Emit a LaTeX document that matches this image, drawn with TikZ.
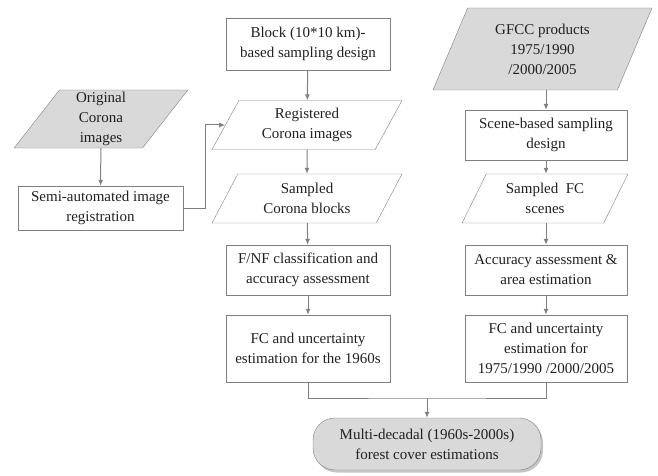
\documentclass[tikz,border=0pt]{standalone}
\usepackage{fontspec}
\setmainfont{Liberation Serif}
\usepackage{tikz}
\usetikzlibrary{shapes.geometric}
\usetikzlibrary{arrows.meta}
\usetikzlibrary{shadows}
\definecolor{linegray}{RGB}{128,128,128}
\definecolor{fillgray}{RGB}{217,217,217}
\definecolor{textgray}{RGB}{35,31,32}

\begin{document}
\begin{tikzpicture}[x=1pt,y=-1pt,
		every node/.style={font=\fontsize{15}{20}\selectfont, text=textgray, align=center},
		procbox/.style={
			draw=linegray,
			rectangle,
			minimum width=164pt,
			minimum height=50pt,
			inner sep=1pt
		},
		databox/.style={
			draw=linegray,
			trapezium,
			trapezium left angle=63,
			trapezium right angle=117,
			trapezium stretches=true,
			minimum width=190pt,
			minimum height=49pt,
			inner sep=1pt
		},
		inputbox/.style={databox, fill=fillgray},
		resultbox/.style={
			draw=linegray,
			fill=fillgray,
			rounded corners=22pt,
			minimum width=228pt,
			minimum height=52pt,
			drop shadow={shadow xshift=2pt, shadow yshift=-2.5pt, fill=black!45}
		},
		flow/.style={draw=linegray, line width=1pt, -{Latex[length=6pt, width=5pt]}},
		joinline/.style={draw=linegray, line width=1pt}]
		\useasboundingbox (0,0) rectangle (658,476);

		% left column
		\node[inputbox, minimum width=174pt, minimum height=58pt] (origimg) at (101,119) {Original\\Corona\\images};
		\node[procbox, minimum width=165pt, minimum height=44pt] (semireg) at (100.5,208) {Semi-automated image\\registration};

		% middle column
		\node[procbox, minimum height=52pt] (blockdesign) at (308,44) {Block (10*10 km)-\\based sampling design};
		\node[databox] (regimg) at (307,125) {Registered\\Corona images};
		\node[databox] (sampblock) at (307,198.5) {Sampled\\Corona blocks};
		\node[procbox] (fnfclass) at (308,270) {F/NF classification and\\accuracy assessment};
		\node[procbox, minimum height=67pt] (fcsixties) at (308,348.5) {FC and uncertainty\\estimation for the 1960s};

		% right column
		\node[inputbox, minimum width=219pt, minimum height=82pt, trapezium left angle=67, trapezium right angle=113] (gfcc) at (542.5,49) {GFCC products\\1975/1990\\/2000/2005};
		\node[procbox, minimum width=162pt] (scenedesign) at (546,135) {Scene-based sampling\\design};
		\node[databox, minimum width=166pt] (sampscene) at (545,198.5) {Sampled\ \ FC\\scenes};
		\node[procbox, minimum width=162pt] (accassess) at (546,270) {Accuracy assessment \&\\area estimation};
		\node[procbox, minimum width=162pt, minimum height=67pt] (fcgfcc) at (546,348.5) {FC and uncertainty\\estimation for\\1975/1990 /2000/2005};

		% result
		\node[resultbox] (multidec) at (427,444) {Multi-decadal (1960s-2000s)\\forest cover estimations};
		\coordinate (merge) at (427,398);

		\draw[flow] (origimg) -- (semireg);
		\draw[flow] (semireg.east) -- ++(22,0) |- (regimg.west);
		\draw[flow] (blockdesign) -- (regimg);
		\draw[flow] (regimg) -- (sampblock);
		\draw[flow] (sampblock) -- (fnfclass);
		\draw[flow] (fnfclass) -- (fcsixties);

		\draw[flow] (gfcc.south -| scenedesign) -- (scenedesign);
		\draw[flow] (scenedesign) -- (sampscene.north -| scenedesign);
		\draw[flow] (sampscene.south -| accassess) -- (accassess);
		\draw[flow] (accassess) -- (fcgfcc);

		\draw[joinline] (fcsixties.south) |- (merge) -| (fcgfcc.south);
		\draw[flow] (merge) -- (multidec);
	\end{tikzpicture}
\end{document}
